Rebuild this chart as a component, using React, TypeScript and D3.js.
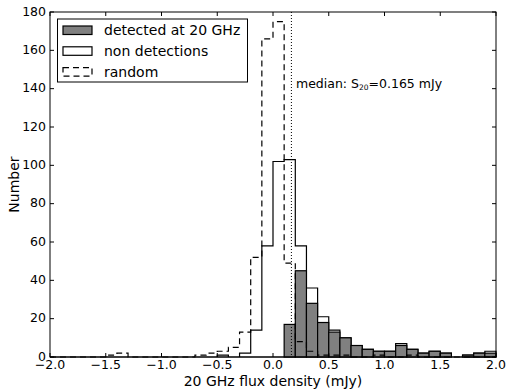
import React from 'react';
import * as d3 from 'd3';

const binStart = -2.0;
const binWidth = 0.1;

// counts per 0.1 mJy bin, from -2.0 to 2.0 (40 bins)
const detected = [
  0, 0, 0, 0, 0, 0, 0, 0, 0, 0,
  0, 0, 0, 0, 0, 0, 0, 0, 0, 0,
  0, 17, 45, 28, 18, 13, 10, 6, 4, 3,
  3, 6, 4, 2, 3, 2, 0, 1, 2, 2,
];
const nonDetections = [
  0, 0, 0, 0, 0, 0, 0, 0, 0, 0,
  0, 0, 0, 0, 0, 1, 0, 2, 14, 58,
  102, 103, 58, 36, 21, 14, 10, 6, 4, 3,
  3, 7, 4, 2, 3, 2, 0, 1, 2, 3,
];
const random = [
  0, 0, 0, 0, 0, 1, 2, 0, 0, 0,
  0, 0, 0, 1, 2, 3, 5, 13, 52, 166,
  175, 49, 8, 3, 1, 1, 1, 0, 0, 1,
  0, 0, 1, 0, 0, 0, 0, 0, 0, 0,
];
const xTicks = [-2.0, -1.5, -1.0, -0.5, 0.0, 0.5, 1.0, 1.5, 2.0];
const yTicks = [0, 20, 40, 60, 80, 100, 120, 140, 160, 180];
const medianValue = 0.165;
const legendLabels = ['detected at 20 GHz', 'non detections', 'random'];

const W = 507;
const H = 389;
const M = { left: 50, right: 496, top: 12, bottom: 357 };
const FONT = 'DejaVu Sans, sans-serif';

export default function App() {
  const x = d3.scaleLinear().domain([-2, 2]).range([M.left, M.right]);
  const y = d3.scaleLinear().domain([0, 180]).range([M.bottom, M.top]);

  const edge = (i: number) => x(binStart + i * binWidth);

  const stepPath = (vals: number[]) => {
    let d = `M${edge(0)},${y(0)}`;
    vals.forEach((v, i) => {
      d += `L${edge(i)},${y(v)}L${edge(i + 1)},${y(v)}`;
    });
    d += `L${edge(vals.length)},${y(0)}`;
    return d;
  };

  const fmt = (v: number) => (v < 0 ? '\u2212' : '') + Math.abs(v).toFixed(1);
  const tickLen = 4;

  return (
    <svg width={W} height={H} style={{ position: 'absolute', left: 0, top: 0, background: '#fff' }} fontFamily={FONT}>
      <rect x={0} y={0} width={W} height={H} fill="#fff" />
      {/* non detections: white filled step */}
      <path d={stepPath(nonDetections) + 'Z'} fill="#fff" stroke="#000" strokeWidth={1.2} strokeLinejoin="miter" />
      {/* detected bars */}
      {detected.map((v, i) =>
        v > 0 ? (
          <rect key={i} x={edge(i)} y={y(v)} width={edge(i + 1) - edge(i)} height={y(0) - y(v)}
            fill="#808080" stroke="#000" strokeWidth={1.2} />
        ) : null
      )}
      {/* random dashed step */}
      <path d={stepPath(random)} fill="none" stroke="#000" strokeWidth={1.2} strokeDasharray="6,4" />
      {/* median */}
      <line x1={x(medianValue)} x2={x(medianValue)} y1={M.top} y2={M.bottom} stroke="#000" strokeWidth={1} strokeDasharray="1,2" />
      <text x={296} y={88} fontSize={12.5} fill="#000">
        median: S<tspan fontSize={7.5} dy={2}>20</tspan><tspan dy={-2}>=0.165 mJy</tspan>
      </text>

      {/* frame */}
      <rect x={M.left} y={M.top} width={M.right - M.left} height={M.bottom - M.top} fill="none" stroke="#000" strokeWidth={1} />

      {/* x ticks */}
      {xTicks.map((t) => (
        <g key={'x' + t}>
          <line x1={x(t)} x2={x(t)} y1={M.bottom} y2={M.bottom - tickLen} stroke="#000" />
          <line x1={x(t)} x2={x(t)} y1={M.top} y2={M.top + tickLen} stroke="#000" />
          <text x={x(t)} y={368.5} fontSize={12.5} textAnchor="middle" fill="#000">{fmt(t)}</text>
        </g>
      ))}
      {/* y ticks */}
      {yTicks.map((t) => (
        <g key={'y' + t}>
          <line x1={M.left} x2={M.left + tickLen} y1={y(t)} y2={y(t)} stroke="#000" />
          <line x1={M.right} x2={M.right - tickLen} y1={y(t)} y2={y(t)} stroke="#000" />
          <text x={46} y={y(t) + 3.5} fontSize={12.5} textAnchor="end" fill="#000">{t}</text>
        </g>
      ))}

      {/* axis labels */}
      <text x={(M.left + M.right) / 2} y={385.5} fontSize={14} textAnchor="middle" fill="#000">20 GHz flux density (mJy)</text>
      <text transform={`translate(19,${(M.top + M.bottom) / 2}) rotate(-90)`} fontSize={14} textAnchor="middle" fill="#000">Number</text>

      {/* legend */}
      <rect x={57.5} y={19} width={190} height={63} fill="#fff" stroke="#000" strokeWidth={1} />
      {legendLabels.map((lab, i) => {
        const by = 35 + i * 20.8;
        const common = { x: 63, y: by - 9, width: 29, height: 8.5 };
        return (
          <g key={lab}>
            {i === 0 && <rect {...common} fill="#808080" stroke="#000" strokeWidth={1.2} />}
            {i === 1 && <rect {...common} fill="#fff" stroke="#000" strokeWidth={1.2} />}
            {i === 2 && <rect {...common} fill="none" stroke="#000" strokeWidth={1.2} strokeDasharray="6,4" />}
            <text x={104} y={by} fontSize={14} fill="#000">{lab}</text>
          </g>
        );
      })}
    </svg>
  );
}
